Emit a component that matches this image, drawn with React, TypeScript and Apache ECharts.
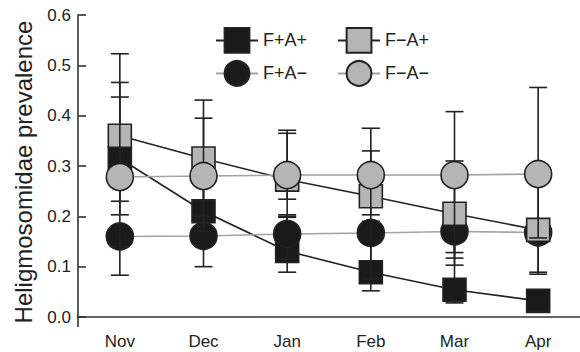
import React, { useEffect, useRef } from "react";
import * as echarts from "echarts";

const months = ["Nov", "Dec", "Jan", "Feb", "Mar", "Apr"];
const yTicks = [0, 0.1, 0.2, 0.3, 0.4, 0.5, 0.6];

// F+A+ (black square)
const fpapVals = [0.315, 0.21, 0.131, 0.089, 0.054, 0.032];
const fpapLow = [0.23, 0.14, 0.089, 0.052, 0.028, 0.015];
const fpapHigh = [0.437, 0.28, 0.198, 0.15, 0.15, 0.05];
// F+A− (black circle)
const fpamVals = [0.16, 0.161, 0.165, 0.167, 0.17, 0.168];
const fpamLow = [0.083, 0.1, 0.115, 0.075, 0.103, 0.085];
const fpamHigh = [0.15, 0.2, 0.203, 0.19, 0.2, 0.19];
// F−A+ (grey square)
const fmapVals = [0.36, 0.315, 0.273, 0.24, 0.205, 0.173];
const fmapLow = [0.203, 0.2, 0.234, 0.15, 0.117, 0.089];
const fmapHigh = [0.523, 0.431, 0.365, 0.33, 0.31, 0.27];
// F−A− (grey circle)
const fmamVals = [0.278, 0.28, 0.282, 0.282, 0.282, 0.284];
const fmamLow = [0.14, 0.17, 0.2, 0.203, 0.128, 0.157];
const fmamHigh = [0.466, 0.395, 0.371, 0.375, 0.408, 0.456];

const INK = "#222";
const GREY_FILL = "#b5b5b5";
const GREY_LINE = "#a3a3a3";

function errSeries(low: number[], high: number[], z: number) {
  return {
    type: "custom",
    z,
    silent: true,
    data: months.map((_, i) => [i, low[i], high[i]]),
    encode: { x: 0, y: [1, 2] },
    renderItem: (params: any, api: any) => {
      const x = api.value(0);
      const p1 = api.coord([x, api.value(1)]);
      const p2 = api.coord([x, api.value(2)]);
      const w = 9;
      const style = { stroke: INK, lineWidth: 1.6 };
      return {
        type: "group",
        children: [
          { type: "line", shape: { x1: p1[0], y1: p1[1], x2: p2[0], y2: p2[1] }, style },
          { type: "line", shape: { x1: p1[0] - w, y1: p1[1], x2: p1[0] + w, y2: p1[1] }, style },
          { type: "line", shape: { x1: p2[0] - w, y1: p2[1], x2: p2[0] + w, y2: p2[1] }, style },
        ],
      };
    },
  };
}

function lineSeries(name: string, vals: number[], symbol: string, size: number, fill: string, lineColor: string, z: number) {
  return {
    type: "line",
    name,
    data: vals,
    z,
    symbol,
    symbolSize: size,
    showSymbol: true,
    silent: true,
    itemStyle: { color: fill, borderColor: INK, borderWidth: 1.6, opacity: 1 },
    lineStyle: { color: lineColor, width: 1.6 },
    emphasis: { disabled: true },
  };
}

export default function App() {
  const ref = useRef<HTMLDivElement>(null);
  useEffect(() => {
    if (!ref.current) return;
    const chart = echarts.init(ref.current, undefined, { renderer: "svg" });
    const legendText = { fontSize: 18, color: INK, fontFamily: "Liberation Sans, Arial, sans-serif" };
    chart.setOption({
      animation: false,
      textStyle: { fontFamily: "Liberation Sans, Arial, sans-serif" },
      grid: { left: 78, top: 15, bottom: 35, width: 508 },
      legend: [
        {
          data: ["F+A+", "F−A+"],
          left: 215,
          top: 27,
          padding: 0,
          itemWidth: 42,
          itemHeight: 31,
          itemGap: 30,
          textStyle: legendText,
          selectedMode: false,
        },
        {
          data: ["F+A−", "F−A−"],
          left: 215,
          top: 60,
          padding: 0,
          itemWidth: 42,
          itemHeight: 31,
          itemGap: 30,
          textStyle: legendText,
          selectedMode: false,
        },
      ],
      xAxis: {
        type: "category",
        data: months,
        offset: 10,
        axisLine: { lineStyle: { color: "#333", width: 1.6 } },
        axisTick: { inside: true, length: 8, alignWithLabel: true, lineStyle: { color: "#333", width: 1.6 } },
        axisLabel: { fontSize: 17, color: INK, margin: 6 },
        splitLine: { show: false },
      },
      yAxis: {
        type: "value",
        min: 0,
        max: 0.6,
        interval: 0.1,
        axisLine: { show: true, lineStyle: { color: "#333", width: 1.6 } },
        axisTick: { show: true, inside: true, length: 8, lineStyle: { color: "#333", width: 1.6 } },
        axisLabel: {
          fontSize: 17,
          color: INK,
          margin: 7,
          formatter: (v: number) => {
            const t = yTicks.find((k) => Math.abs(k - v) < 1e-9);
            return (t !== undefined ? t : v).toFixed(1);
          },
        },
        splitLine: { show: false },
      },
      graphic: [
        {
          type: "line",
          shape: { x1: 78, y1: 316, x2: 78, y2: 327 },
          style: { stroke: "#333", lineWidth: 1.6 },
          z: 10,
        },
        {
          type: "text",
          x: 23,
          y: 172,
          rotation: Math.PI / 2,
          style: {
            text: "Heligmosomidae prevalence",
            fontSize: 24,
            fill: INK,
            fontFamily: "Liberation Sans, Arial, sans-serif",
            textAlign: "center",
            textVerticalAlign: "middle",
          },
        },
      ],
      series: [
        errSeries(fpapLow, fpapHigh, 2),
        lineSeries("F+A+", fpapVals, "rect", 23, "#1a1a1a", INK, 3),
        errSeries(fpamLow, fpamHigh, 4),
        lineSeries("F+A−", fpamVals, "circle", 27, "#1a1a1a", GREY_LINE, 5),
        errSeries(fmapLow, fmapHigh, 6),
        lineSeries("F−A+", fmapVals, "rect", 23, GREY_FILL, INK, 7),
        errSeries(fmamLow, fmamHigh, 8),
        lineSeries("F−A−", fmamVals, "circle", 27, GREY_FILL, GREY_LINE, 9),
      ],
    });
    return () => chart.dispose();
  }, []);
  return (
    <div
      ref={ref}
      style={{ position: "fixed", left: 0, top: 0, width: 580, height: 352, background: "#fff" }}
    />
  );
}
